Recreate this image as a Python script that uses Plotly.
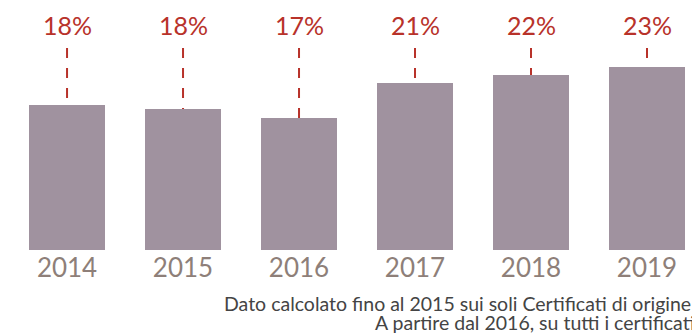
import plotly.graph_objects as go

# Share per year (percent)
years = ["2014", "2015", "2016", "2017", "2018", "2019"]
shares = [18.2, 17.7, 16.6, 21.0, 22.0, 23.0]

note_lines = [
    "Dato calcolato fino al 2015 sui soli Certificati di origine",
    "A partire dal 2016, su tutti i certificati",
]
# left edge (paper fraction) and vertical centre of each footnote line
note_x = [0.3208, 0.539]
note_y = [-0.214, -0.288]

BAR = "#a0929f"
RED = "#b8322a"
YEAR = "#8e7f79"
FONT = "Lato, 'Open Sans', sans-serif"

Y_MAX = 31.45
LABEL_Y = 28.3
LEADER_TOP = 25.4

fig = go.Figure(
    go.Bar(
        x=list(range(len(years))),
        y=shares,
        marker=dict(color=BAR, line=dict(width=0)),
        width=0.655,
        hoverinfo="skip",
    )
)

for i, v in enumerate(shares):
    # dashed leader from the label down to the bar
    fig.add_shape(
        type="line", xref="x", yref="y",
        x0=i, x1=i, y0=LEADER_TOP, y1=v,
        line=dict(color=RED, width=2, dash="10px,10px"),
        layer="below",
    )
    fig.add_annotation(
        x=i, y=LABEL_Y, xref="x", yref="y",
        text=f"{round(v)}%", showarrow=False,
        font=dict(family=FONT, size=25, color=RED),
    )

for text, nx, ny in zip(note_lines, note_x, note_y):
    fig.add_annotation(
        x=nx, y=ny, xref="paper", yref="paper",
        text=text, showarrow=False,
        xanchor="left", yanchor="middle", align="left",
        font=dict(family=FONT, size=19.5, color="#444444"),
    )

fig.update_layout(
    width=692, height=333,
    margin=dict(l=0, r=0, t=0, b=83),
    paper_bgcolor="white", plot_bgcolor="white",
    showlegend=False, bargap=0,
    xaxis=dict(
        range=[-0.578, 5.388],
        tickmode="array", tickvals=list(range(len(years))), ticktext=years,
        showgrid=False, zeroline=False, showline=False, ticks="",
        tickfont=dict(family=FONT, size=26, color=YEAR),
        fixedrange=True,
    ),
    yaxis=dict(
        range=[0, Y_MAX], visible=False, fixedrange=True,
    ),
)

fig.write_html("out.html", config={"displayModeBar": False})
